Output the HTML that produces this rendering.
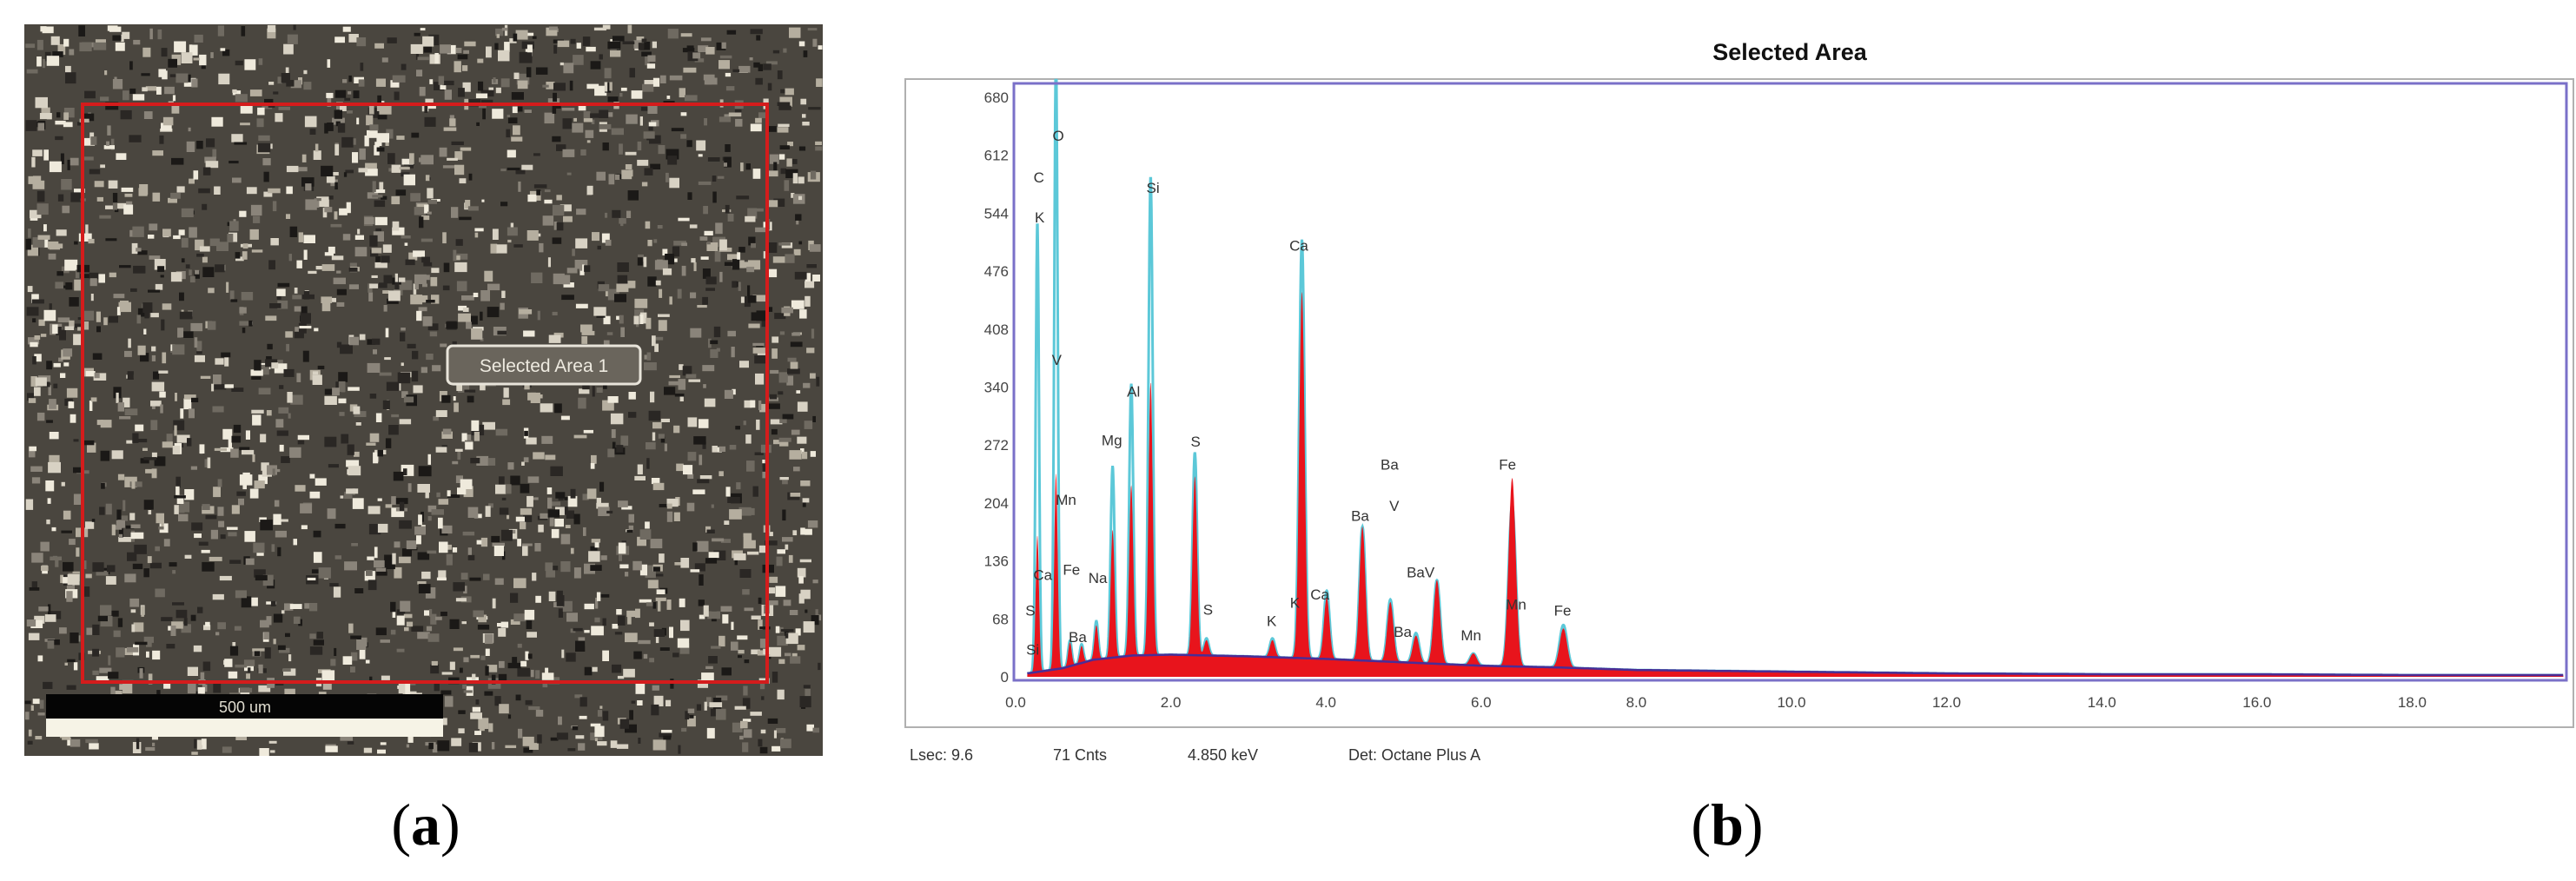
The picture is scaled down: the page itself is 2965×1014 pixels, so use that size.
<!DOCTYPE html>
<html><head><meta charset="utf-8"><style>
html,body{margin:0;padding:0;background:#fff;}
svg{display:block;}
text{font-family:"Liberation Sans",sans-serif;}
</style></head><body>
<svg id="fig" width="2965" height="1014" viewBox="0 0 2965 1014" xmlns="http://www.w3.org/2000/svg">
<g id="sem">
<rect x="28" y="28" width="919" height="842" fill="#4a463f"/>
<g id="semspots"></g>
<rect x="95" y="120" width="788" height="665" fill="none" stroke="#d41c1c" stroke-width="4"/>
<rect x="515" y="398" width="222" height="44" rx="6" fill="#6a655c" stroke="#e8e4da" stroke-width="3"/>
<text x="626" y="428" font-size="21" fill="#eeeae0" text-anchor="middle">Selected Area 1</text>
<rect x="53" y="799" width="457" height="28" fill="#050505"/>
<rect x="53" y="827" width="457" height="21" fill="#f6f3e6"/>
<text x="282" y="820" font-size="18" fill="#e0ddd0" text-anchor="middle">500 um</text>
</g>
<text x="490" y="972" font-size="68" text-anchor="middle" style="font-family:'Liberation Serif',serif">(<tspan font-weight="bold">a</tspan>)</text>
<text x="1988" y="972" font-size="68" text-anchor="middle" style="font-family:'Liberation Serif',serif">(<tspan font-weight="bold">b</tspan>)</text>

<g id="chart">
<text x="2060" y="69" font-size="27" font-weight="bold" text-anchor="middle" fill="#111">Selected Area</text>
<rect x="1042" y="91" width="1920" height="746" fill="#fff" stroke="#b0b0b0" stroke-width="2"/>
<g id="spec"></g>
<rect x="1167" y="96" width="1787" height="687" fill="none" stroke="#7a70c8" stroke-width="3"/>
<g id="yticks"></g>
<g id="xticks"></g>
<g id="elabels"></g>
<g>
<text x="1047" y="875" font-size="18" fill="#333">Lsec: 9.6</text>
<text x="1212" y="875" font-size="18" fill="#333">71 Cnts</text>
<text x="1367" y="875" font-size="18" fill="#333">4.850 keV</text>
<text x="1552" y="875" font-size="18" fill="#333">Det: Octane Plus A</text>
</g>
</g>
</svg>
<script>
const NS="http://www.w3.org/2000/svg";
// ---- chart data ----
const yTickValues=[0,68,136,204,272,340,408,476,544,612,680];
const xTickValues=[0,2,4,6,8,10,12,14,16,18];
const xTickLabels=["0.0","2.0","4.0","6.0","8.0","10.0","12.0","14.0","16.0","18.0"];
const peakEnergy=[0.28,0.52,0.70,0.85,1.04,1.25,1.49,1.74,2.31,2.46,3.31,3.69,4.01,4.47,4.83,5.16,5.43,5.90,6.40,7.06];
const cyanCounts=[527,720,30,22,45,225,319,561,238,20,22,491,80,157,73,35,98,14,190,50];
const redCounts=[160,230,28,20,40,150,200,320,210,18,20,430,72,157,70,32,98,14,221,46];
const bgEnergy=[0,0.3,0.6,1.0,1.5,2.0,3.0,4.0,5.0,6.0,7.0,8.0,10.0,12.0,14.0,16.0,18.0,20.0];
const bgCounts=[2,6,10,20,25,26,24,21,17,13,11,8,6,4,3,3,2,2];
const elementNames=["C","K","O","Si","V","Al","Mg","Mn","Ca","Fe","Na","S","Si","Ba","S","S","K","K","Ca","Ca","Ba","V","Ba","BaV","Ba","Mn","Fe","Mn","Fe"];
const elementEnergy=[0.30,0.31,0.55,1.77,0.53,1.52,1.24,0.65,0.35,0.72,1.06,0.19,0.22,0.80,2.32,2.48,3.30,3.60,3.92,3.65,4.82,4.88,4.44,5.22,4.99,5.87,6.34,6.45,7.05];
const elementCounts=[586,539,635,574,372,335,278,208,120,126,116,78,32,47,276,79,66,87,97,506,249,201,189,123,53,49,249,85,78];

// ---- axes ----
const X0=1169, XPK=89.3, Y0=779, YPC=0.981;
const xs=e=>X0+e*XPK;
const ys=c=>Y0-Math.min(c,700)*YPC;

function bg(e){
  for(let i=0;i<bgEnergy.length-1;i++){
    if(e<=bgEnergy[i+1]){const t=(e-bgEnergy[i])/(bgEnergy[i+1]-bgEnergy[i]);return bgCounts[i]+t*(bgCounts[i+1]-bgCounts[i]);}
  }
  return bgCounts[bgCounts.length-1];
}
function spectrum(h,e){
  let v=bg(e);
  for(let i=0;i<peakEnergy.length;i++){const s=0.02+0.004*peakEnergy[i];const d=(e-peakEnergy[i])/s;v+=h[i]*Math.exp(-0.5*d*d);}
  return v;
}
const spec=document.getElementById('spec');
let redD="M"+xs(0.15)+","+Y0, cyD="", bgD="";
for(let e=0.15;e<=19.95;e+=0.004){
  redD+=" L"+xs(e).toFixed(1)+","+ys(spectrum(redCounts,e)).toFixed(1);
  cyD+=(cyD?" L":"M")+xs(e).toFixed(1)+","+ys(spectrum(cyanCounts,e)).toFixed(1);
  bgD+=(bgD?" L":"M")+xs(e).toFixed(1)+","+ys(bg(e)).toFixed(1);
}
redD+=" L"+xs(19.95)+","+Y0+" Z";
const cy=document.createElementNS(NS,'path');
cy.setAttribute('d',cyD);cy.setAttribute('fill','none');cy.setAttribute('stroke','#5cc8d8');cy.setAttribute('stroke-width','3');


spec.appendChild(cy);
const rd=document.createElementNS(NS,'path');
rd.setAttribute('d',redD);rd.setAttribute('fill','#e8141c');


spec.appendChild(rd);
const bl=document.createElementNS(NS,'path');
bl.setAttribute('d',bgD);bl.setAttribute('fill','none');bl.setAttribute('stroke','#4a2d96');bl.setAttribute('stroke-width','2.5');


spec.appendChild(bl);

const yt=document.getElementById('yticks');
yTickValues.forEach(v=>{
  const t=document.createElementNS(NS,'text');
  t.setAttribute('x',1161);t.setAttribute('y',ys(v)+6);t.setAttribute('font-size','17');t.setAttribute('text-anchor','end');t.setAttribute('fill','#444');
  t.textContent=String(v);
  
  
  yt.appendChild(t);
});
const xt=document.getElementById('xticks');
xTickValues.forEach((v,i)=>{
  const t=document.createElementNS(NS,'text');
  t.setAttribute('x',xs(v));t.setAttribute('y',814);t.setAttribute('font-size','17');t.setAttribute('text-anchor','middle');t.setAttribute('fill','#444');
  t.textContent=xTickLabels[i];
  
  
  xt.appendChild(t);
});
const el=document.getElementById('elabels');
elementNames.forEach((n,i)=>{
  const t=document.createElementNS(NS,'text');
  t.setAttribute('x',xs(elementEnergy[i]));t.setAttribute('y',ys(elementCounts[i])+6);t.setAttribute('font-size','17');t.setAttribute('text-anchor','middle');t.setAttribute('fill','#333');
  t.textContent=n;
  
  
  el.appendChild(t);
});

// ---- SEM texture (decorative photo) ----
const sp=document.getElementById('semspots');
let seed=12345;const rnd=()=>{seed=(seed*1103515245+12345)%2147483648;return seed/2147483648;};
const cols=["#d8d2c4","#b5ae9f","#8a847a","#2a2724","#1b1917","#6f6a61","#efeadc"];
for(let i=0;i<2600;i++){
  const r=document.createElementNS(NS,'rect');
  const w=3+rnd()*12,h=3+rnd()*10;
  r.setAttribute('x',(28+rnd()*(919-w)).toFixed(1));r.setAttribute('y',(28+rnd()*(842-h)).toFixed(1));
  r.setAttribute('width',w.toFixed(1));r.setAttribute('height',h.toFixed(1));
  r.setAttribute('fill',cols[Math.floor(rnd()*cols.length)]);
  sp.appendChild(r);
}
</script>
</body></html>
